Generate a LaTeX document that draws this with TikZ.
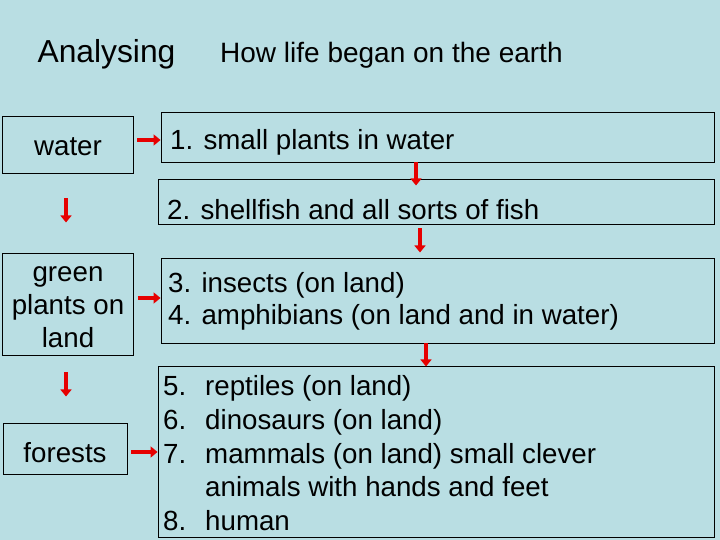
\documentclass[tikz,border=0pt]{standalone}
\usepackage{fontspec}
\setmainfont{Liberation Sans}
\usetikzlibrary{arrows.meta}
\definecolor{bg}{RGB}{185,222,227}
\definecolor{arrred}{RGB}{230,0,0}
\tikzset{
  box/.style={draw=black, line width=0.9pt, rectangle, inner sep=0pt},
  txt/.style={anchor=base west, inner sep=0pt, font=\fontsize{27.7}{34}\selectfont},
  ctxt/.style={anchor=base, inner sep=0pt, font=\fontsize{27.7}{34}\selectfont},
  arr/.style={draw=arrred, line width=4pt, -{Triangle[length=7pt,width=11pt]}},
}
\begin{document}
\begin{tikzpicture}[x=1pt,y=-1pt]
\useasboundingbox (0,0) rectangle (720,540);
\fill[bg] (0,0) rectangle (720,540);
% titles
\node[anchor=base, inner sep=0pt, font=\fontsize{31.8}{36}\selectfont] (t1) at (106.5,63) {Analysing};
\node[anchor=base west, inner sep=0pt, font=\fontsize{28}{34}\selectfont] (t2) at (220,63) {How life began on the earth};
% left boxes
\node[box, minimum width=131pt, minimum height=57pt] (water) at (67.5,144.5) {};
\node[ctxt] at (68,156) {water};
\node[box, minimum width=131pt, minimum height=102pt] (green) at (68,304) {};
\node[ctxt] at (68,281) {green};
\node[ctxt] at (68,314) {plants on};
\node[ctxt] at (68,347) {land};
\node[box, minimum width=124pt, minimum height=51pt] (forests) at (65,448.5) {};
\node[ctxt] at (65,462) {forests};
% right boxes
\node[box, minimum width=553pt, minimum height=50pt] (b1) at (437.5,137) {};
\node[txt] at (170,150) {1. small plants in water};
\node[box, minimum width=556pt, minimum height=45pt] (b2) at (436,201.5) {};
\node[txt] at (167,219) {2. shellfish and all sorts of fish};
\node[box, minimum width=553pt, minimum height=85pt] (b3) at (437.5,300.5) {};
\node[txt] at (168,292) {3. insects (on land)};
\node[txt] at (168,324) {4. amphibians (on land and in water)};
\node[box, minimum width=556pt, minimum height=171pt] (b4) at (436,451.5) {};
\node[txt] at (163,395) {5.};
\node[txt] at (205,395) {reptiles (on land)};
\node[txt] at (163,429) {6.};
\node[txt] at (205,429) {dinosaurs (on land)};
\node[txt] at (163,463) {7.};
\node[txt] at (205,463) {mammals (on land) small clever};
\node[txt] at (205,496) {animals with hands and feet};
\node[txt] at (163,530) {8.};
\node[txt] at (205,530) {human};
% arrows
\draw[arr] ([xshift=4pt]water.east |- 0,140) -- (b1.west |- 0,140);
\draw[arr] ([xshift=4pt]green.east |- 0,298) -- (b3.west |- 0,298);
\draw[arr] ([xshift=4pt]forests.east |- 0,452) -- (b4.west |- 0,452);
\draw[arr] ([yshift=-25pt]water.south -| 66,0) -- ++(0,24);
\draw[arr] ([yshift=-17pt]green.south -| 66,0) -- ++(0,24);
\draw[arr] (b1.south -| 416,0) -- ++(0,23);
\draw[arr] ([yshift=-4pt]b2.south -| 420,0) -- ++(0,24);
\draw[arr] (b3.south -| 426,0) -- ++(0,23);
\end{tikzpicture}
\end{document}
